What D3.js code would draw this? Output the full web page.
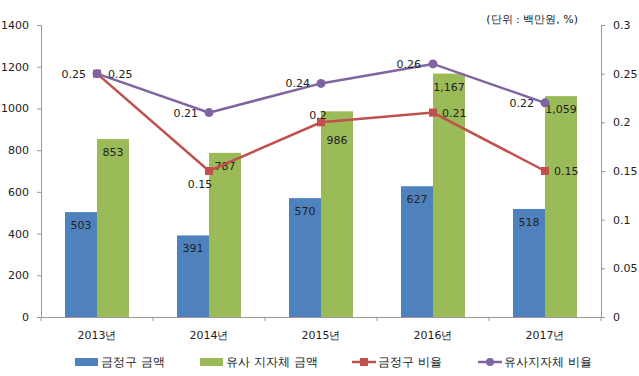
<!DOCTYPE html>
<html><head><meta charset="utf-8">
<script src="https://cdn.jsdelivr.net/npm/d3@7"></script>
<style>body{margin:0;background:#fff}text{font-family:"DejaVu Sans",sans-serif;fill:#222}</style>
</head><body><div class="graph"></div>
<script>
const years = ["2013년", "2014년", "2015년", "2016년", "2017년"]
const geumAmount = [503, 391, 570, 627, 518]
const similarAmount = [853, 787, 986, 1167, 1059]
const geumRatio = [0.25, 0.15, 0.2, 0.21, 0.15]
const similarRatio = [0.25, 0.21, 0.24, 0.26, 0.22]
const leftTicks = [0, 200, 400, 600, 800, 1000, 1200, 1400]
const rightTicks = [0, 0.05, 0.1, 0.15, 0.2, 0.25, 0.3]
const seriesNames = ["금정구 금액", "유사 지자체 금액", "금정구 비율", "유사지자체 비율"]

const width = 639, height = 376
const margin = {top: 25, right: 38, bottom: 59, left: 41}
const c = {blue: "#4F81BD", green: "#9BBB59", red: "#C0504D", purple: "#8064A2"}

const svg = d3.select(".graph").append("svg").attr("width", width).attr("height", height)

const x = d3.scaleBand().domain(years).range([margin.left, width - margin.right])
const xs = d3.scaleBand().domain([0, 1]).range([0, x.bandwidth()]).paddingInner(0).paddingOuter(0.75)
const y = d3.scaleLinear().domain([0, 1400]).range([height - margin.bottom, margin.top])
const y2 = d3.scaleLinear().domain([0, 0.3]).range([height - margin.bottom, margin.top])

var fmt = d3.format(",")

// axes
var yAxis = g => g.attr("transform", `translate(${margin.left},0)`)
  .call(d3.axisLeft(y).tickValues(leftTicks).tickFormat(d => String(d)).tickSize(4).tickPadding(8))
var y2Axis = g => g.attr("transform", `translate(${width - margin.right},0)`)
  .call(d3.axisRight(y2).tickValues(rightTicks).tickFormat(d => String(d)).tickSize(4).tickPadding(8))
var xAxis = g => g.attr("transform", `translate(0,${height - margin.bottom})`)
  .call(d3.axisBottom(x).tickSize(0).tickPadding(14))

svg.append("g").call(yAxis)
svg.append("g").call(y2Axis)
svg.append("g").call(xAxis)
svg.selectAll(".domain").attr("stroke", "#999")
svg.selectAll(".tick line").attr("stroke", "#999")
svg.selectAll(".tick text").attr("font-size", 11).attr("fill", "#222")

// x boundary ticks
const bounds = years.map(d => x(d)).concat([x(years[4]) + x.bandwidth()])
svg.append("g").selectAll("line").data(bounds).join("line")
  .attr("x1", d => d).attr("x2", d => d)
  .attr("y1", height - margin.bottom).attr("y2", height - margin.bottom + 4)
  .attr("stroke", "#999")

// bars
const bars = [geumAmount, similarAmount]
const barColors = [c.blue, c.green]
// label offsets below bar top (986 pushed down to clear the red label)
const barLabelDy = [[17, 17, 17, 17, 17], [17, 17, 33, 17, 17]]
bars.forEach((vals, i) => {
  const g = svg.append("g")
  g.selectAll("rect").data(vals).join("rect")
    .attr("x", (d, j) => x(years[j]) + xs(i))
    .attr("y", d => y(d))
    .attr("width", xs.bandwidth())
    .attr("height", d => y(0) - y(d))
    .attr("fill", barColors[i])
  g.selectAll("text").data(vals).join("text")
    .attr("x", (d, j) => x(years[j]) + xs(i) + xs.bandwidth() / 2)
    .attr("y", (d, j) => y(d) + barLabelDy[i][j])
    .attr("text-anchor", "middle")
    .attr("font-size", 11)
    .text(d => fmt(d))
})

// lines
const cx = d => x(d) + x.bandwidth() / 2
const line = d3.line().x((d, j) => cx(years[j])).y(d => y2(d))

svg.append("path").datum(geumRatio).attr("fill", "none").attr("stroke", c.red).attr("stroke-width", 2.5).attr("d", line)
svg.append("path").datum(similarRatio).attr("fill", "none").attr("stroke", c.purple).attr("stroke-width", 2.5).attr("d", line)

svg.append("g").selectAll("rect").data(geumRatio).join("rect")
  .attr("x", (d, j) => cx(years[j]) - 4).attr("y", d => y2(d) - 4)
  .attr("width", 8).attr("height", 8).attr("fill", c.red)
svg.append("g").selectAll("circle").data(similarRatio).join("circle")
  .attr("cx", (d, j) => cx(years[j])).attr("cy", d => y2(d))
  .attr("r", 4.5).attr("fill", c.purple)

// line labels: [dx, dy, anchor]
const redPos = [[-11, 4, "end"], [-9, 17, "middle"], [-3, -3, "middle"], [9, 4, "start"], [9, 4, "start"]]
const purplePos = [[11, 4, "start"], [-11, 4, "end"], [-11, 4, "end"], [-12, 4, "end"], [-11, 4, "end"]]
function ratioLabels(vals, pos) {
  svg.append("g").selectAll("text").data(vals).join("text")
    .attr("x", (d, j) => cx(years[j]) + pos[j][0])
    .attr("y", (d, j) => y2(d) + pos[j][1])
    .attr("text-anchor", (d, j) => pos[j][2])
    .attr("font-size", 11)
    .text(d => String(d))
}
ratioLabels(geumRatio, redPos)
ratioLabels(similarRatio, purplePos)

// unit
svg.append("text").attr("x", 578).attr("y", 23).attr("text-anchor", "end")
  .attr("font-size", 11).text("(단위 : 백만원, %)")

// legend
const legendX = [75, 200, 352, 478]
const leg = svg.append("g").attr("transform", `translate(0,${height - 14})`)
seriesNames.forEach((name, i) => {
  const g = leg.append("g").attr("transform", `translate(${legendX[i]},0)`)
  if (i < 2) {
    g.append("rect").attr("x", 0).attr("y", -4).attr("width", 23).attr("height", 8).attr("fill", barColors[i])
  } else {
    const col = i === 2 ? c.red : c.purple
    g.append("line").attr("x1", 0).attr("x2", 24).attr("y1", 0).attr("y2", 0).attr("stroke", col).attr("stroke-width", 2.5)
    if (i === 2) g.append("rect").attr("x", 8).attr("y", -4).attr("width", 8).attr("height", 8).attr("fill", col)
    else g.append("circle").attr("cx", 12).attr("cy", 0).attr("r", 4).attr("fill", col)
  }
  g.append("text").attr("x", 26).attr("y", 4).attr("font-size", 12).text(name)
})
</script></body></html>
